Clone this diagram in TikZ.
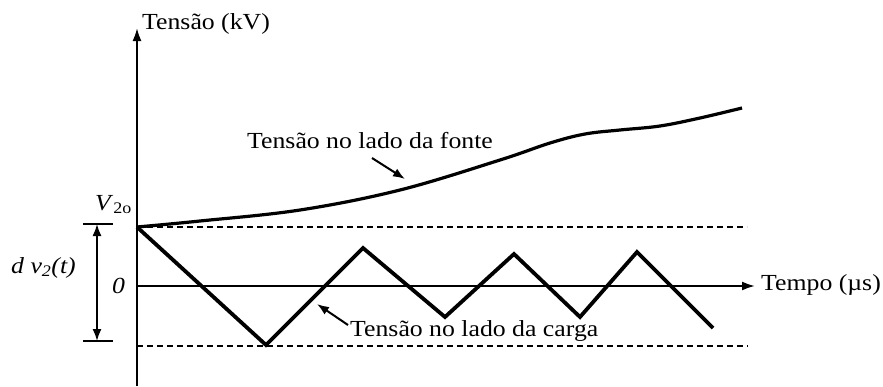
\documentclass[tikz,border=0pt]{standalone}
\usepackage{fontspec}
\setmainfont{Liberation Serif}[FakeStretch=1.12]
\usetikzlibrary{arrows.meta}
\begin{document}
\begin{tikzpicture}[x=1pt,y=-1pt,
  lbl/.style={inner sep=0pt,anchor=base west,font=\fontsize{23}{26}\selectfont},
  axis/.style={line width=2pt,-{Latex[length=13pt,width=9pt]}},
  wave/.style={line width=3.8pt,line join=miter},
  guide/.style={line width=1.5pt,dash pattern=on 6pt off 4pt},
  pointer/.style={line width=2pt,-{Latex[length=12pt,width=9pt]}},
  dimtick/.style={line width=1.5pt}]
\useasboundingbox (0,0) rectangle (883,386);
% axes
\coordinate (o) at (137,286);
\coordinate (ybot) at (137,386);
\coordinate (ytop) at (137,28);
\coordinate (xend) at (755,286);
\draw[axis] (ybot) -- (ytop);
\draw[axis] (o) -- (xend);
% dashed guides
\coordinate (ut0) at (137,227);
\coordinate (ut1) at (747,227);
\coordinate (lt0) at (137,346);
\coordinate (lt1) at (748,346);
\draw[guide] (ut0) -- (ut1);
\draw[guide] (lt0) -- (lt1);
% source-side voltage
\draw[line width=3.2pt] plot[smooth,tension=0.6] coordinates
 {(137,227) (200,221) (300,210) (400,190) (500,160) (550,143) (585,134) (620,130) (660,126) (700,118) (742,108)};
% load-side voltage
\draw[wave] (137,227) -- (266,345) -- (363,248) -- (445,317) -- (514,254) -- (580,317) -- (637,252) -- (713,328);
% dimension arrow
\coordinate (dt0) at (83,224);
\coordinate (dt1) at (113,224);
\coordinate (db0) at (83,341);
\coordinate (db1) at (113,341);
\coordinate (dtop) at (97,224);
\coordinate (dbot) at (97,341);
\draw[dimtick] (dt0) -- (dt1);
\draw[dimtick] (db0) -- (db1);
\draw[line width=1.6pt,{Latex[length=12pt,width=9pt]}-{Latex[length=12pt,width=9pt]}] (dtop) -- (dbot);
% labels
\node[lbl] (ylab) at (142,29) {Tensão (kV)};
\node[lbl] (xlab) at (761,290) {Tempo (µs)};
\node[lbl] (fonte) at (247,148) {Tensão no lado da fonte};
\node[lbl] (carga) at (350,336) {Tensão no lado da carga};
\node[lbl] (dv) at (11,273) {\textit{d v}\textsubscript{\itshape 2}\textit{(t)}};
\node[lbl] (zero) at (112,293) {\textit{0}};
\node[lbl] (v2o) at (95,210) {\textit{V}\textsubscript{2o}};
% pointers
\coordinate (ft) at (372,158);
\coordinate (pf) at (405,179);
\coordinate (ct) at (348,325);
\coordinate (pc) at (317,304);
\draw[pointer] (ft) -- (pf);
\draw[pointer] (ct) -- (pc);
\end{tikzpicture}
\end{document}
